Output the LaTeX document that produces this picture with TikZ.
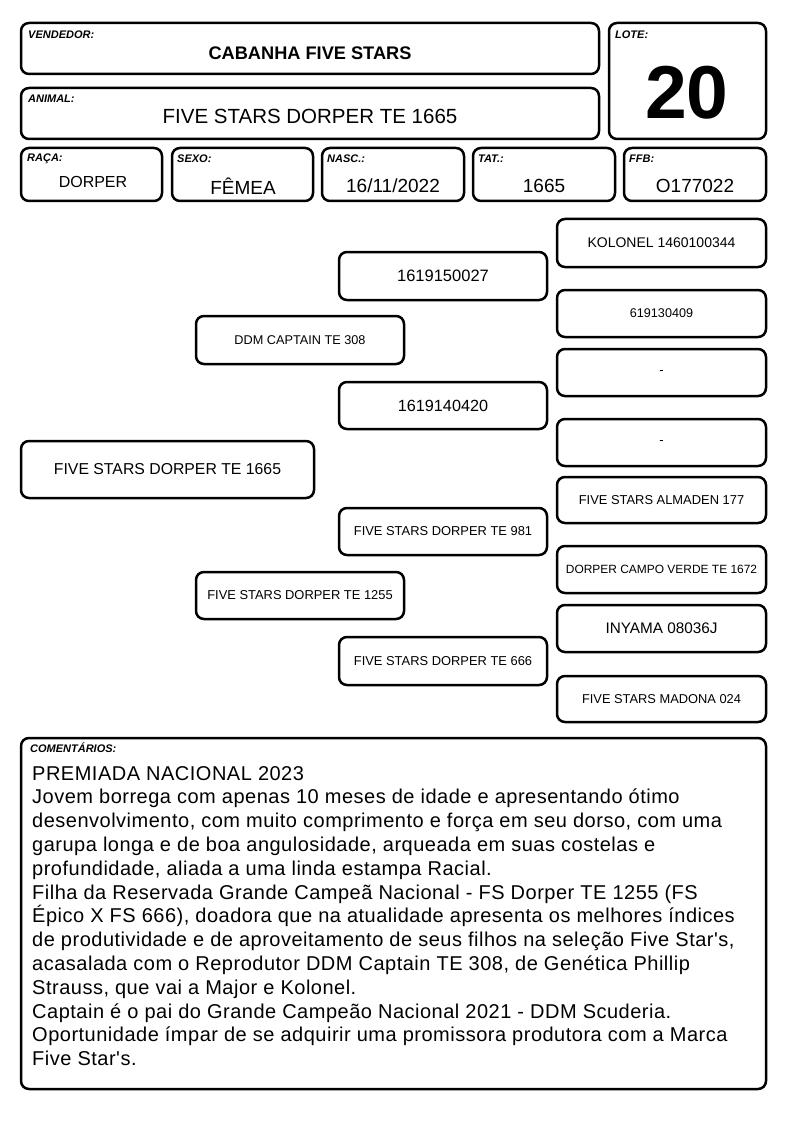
\documentclass[tikz,border=0pt]{standalone}
\usepackage{fontspec}
\setmainfont{Liberation Sans}[Ligatures=TeXOff]
\newfontfamily\comfont{Liberation Sans}[Ligatures=TeXOff,LetterSpace=2.5]
\begin{document}
\begin{tikzpicture}[x=1pt,y=-1pt,
  box/.style={draw=black,line width=2.5pt,rounded corners=8pt,inner sep=0pt,align=center},
  lbl/.style={anchor=west,inner sep=0pt,font=\fontsize{11}{12}\selectfont\bfseries\itshape},
  ped/.style={box,minimum width=208pt,minimum height=48pt},
  gg/.style={box,minimum width=209pt,minimum height=47pt}]
\useasboundingbox (0,0) rectangle (794,1123);
% header
\node[box,minimum width=578pt,minimum height=51pt] (vend) at (310,48.5) {};
\node[box,minimum width=578pt,minimum height=51pt] (anim) at (310,113.5) {};
\node[box,minimum width=157pt,minimum height=116pt] (lote) at (687.5,81) {};
\node[lbl] (lvend) at (28,35) {VENDEDOR:};
\node[lbl] (lanim) at (28,99) {ANIMAL:};
\node[lbl] (llote) at (615,35) {LOTE:};
\node[inner sep=0pt,font=\fontsize{18.2}{20}\selectfont\bfseries] (tvend) at (310,53) {CABANHA FIVE STARS};
\node[inner sep=0pt,font=\fontsize{20.5}{22}\selectfont] (tanim) at (310,116) {FIVE STARS DORPER TE 1665};
\node[inner sep=0pt,font=\fontsize{75}{80}\selectfont\bfseries] (tlote) at (687,93) {20};
% second row
\node[box,minimum width=141pt,minimum height=53pt] (raca) at (91.5,174.5) {};
\node[box,minimum width=141pt,minimum height=53pt] (sexo) at (242.5,174.5) {};
\node[box,minimum width=142pt,minimum height=53pt] (nasc) at (393,174.5) {};
\node[box,minimum width=142pt,minimum height=53pt] (tat) at (544,174.5) {};
\node[box,minimum width=142pt,minimum height=53pt] (ffb) at (695,174.5) {};
\node[lbl] (lraca) at (27,159) {RAÇA:};
\node[lbl] (lsexo) at (177,159) {SEXO:};
\node[lbl] (lnasc) at (327,159) {NASC.:};
\node[lbl] (ltat) at (478,159) {TAT.:};
\node[lbl] (lffb) at (629,159) {FFB:};
\node[inner sep=0pt,font=\fontsize{16}{18}\selectfont] (traca) at (93,182) {DORPER};
\node[inner sep=0pt,font=\fontsize{19}{21}\selectfont] (tsexo) at (243,186) {FÊMEA};
\node[inner sep=0pt,font=\fontsize{19}{21}\selectfont] (tnasc) at (393,186) {16/11/2022};
\node[inner sep=0pt,font=\fontsize{19}{21}\selectfont] (ttat) at (544,186) {1665};
\node[inner sep=0pt,font=\fontsize{19}{21}\selectfont] (tffb) at (695,186) {O177022};
% pedigree
\node[box,minimum width=293pt,minimum height=57pt,font=\fontsize{15.8}{18}\selectfont] (p0) at (167.5,469.5) {FIVE STARS DORPER TE 1665};
\node[ped,font=\fontsize{12.7}{15}\selectfont] (s) at (300,340) {DDM CAPTAIN TE 308};
\node[ped,minimum height=47pt,font=\fontsize{12.9}{15}\selectfont] (d) at (300,595.5) {FIVE STARS DORPER TE 1255};
\node[ped,font=\fontsize{16.5}{18}\selectfont] (ss) at (443,276) {1619150027};
\node[ped,minimum height=47pt,font=\fontsize{16.2}{18}\selectfont] (sd) at (443,405.5) {1619140420};
\node[ped,minimum height=47pt,font=\fontsize{12.9}{15}\selectfont] (ds) at (443,531.5) {FIVE STARS DORPER TE 981};
\node[ped,font=\fontsize{12.9}{15}\selectfont] (dd) at (443,661) {FIVE STARS DORPER TE 666};
\node[gg,minimum height=48pt,font=\fontsize{14}{16}\selectfont] (sss) at (661.5,243) {KOLONEL 1460100344};
\node[gg,font=\fontsize{12.6}{15}\selectfont] (ssd) at (661.5,313.5) {619130409};
\node[gg,font=\fontsize{13}{15}\selectfont] (sds) at (661.5,372.5) {-};
\node[gg,font=\fontsize{13}{15}\selectfont] (sdd) at (661.5,442.5) {-};
\node[gg,minimum height=46pt,font=\fontsize{12.9}{15}\selectfont] (dss) at (661.5,500) {FIVE STARS ALMADEN 177};
\node[gg,font=\fontsize{11.95}{14}\selectfont] (dsd) at (661.5,569.5) {DORPER CAMPO VERDE TE 1672};
\node[gg,font=\fontsize{15.3}{17}\selectfont] (dds) at (661.5,628.5) {INYAMA 08036J};
\node[gg,minimum height=46pt,font=\fontsize{12.85}{15}\selectfont] (ddd) at (661.5,699) {FIVE STARS MADONA 024};
% comments
\node[box,minimum width=745pt,minimum height=351pt] (com) at (393.5,913.5) {};
\node[lbl] (lcom) at (30,748) {COMENTÁRIOS:};
\node[anchor=north west,inner sep=0pt,align=left,font=\comfont\fontsize{20}{23.8}\selectfont] (tcom) at (32,766) {PREMIADA NACIONAL 2023\\
Jovem borrega com apenas 10 meses de idade e apresentando ótimo\\
desenvolvimento, com muito comprimento e força em seu dorso, com uma\\
garupa longa e de boa angulosidade, arqueada em suas costelas e\\
profundidade, aliada a uma linda estampa Racial.\\
Filha da Reservada Grande Campeã Nacional - FS Dorper TE 1255 (FS\\
Épico X FS 666), doadora que na atualidade apresenta os melhores índices\\
de produtividade e de aproveitamento de seus filhos na seleção Five Star's,\\
acasalada com o Reprodutor DDM Captain TE 308, de Genética Phillip\\
Strauss, que vai a Major e Kolonel.\\
Captain é o pai do Grande Campeão Nacional 2021 - DDM Scuderia.\\
Oportunidade ímpar de se adquirir uma promissora produtora com a Marca\\
Five Star's.};
\end{tikzpicture}
\end{document}
